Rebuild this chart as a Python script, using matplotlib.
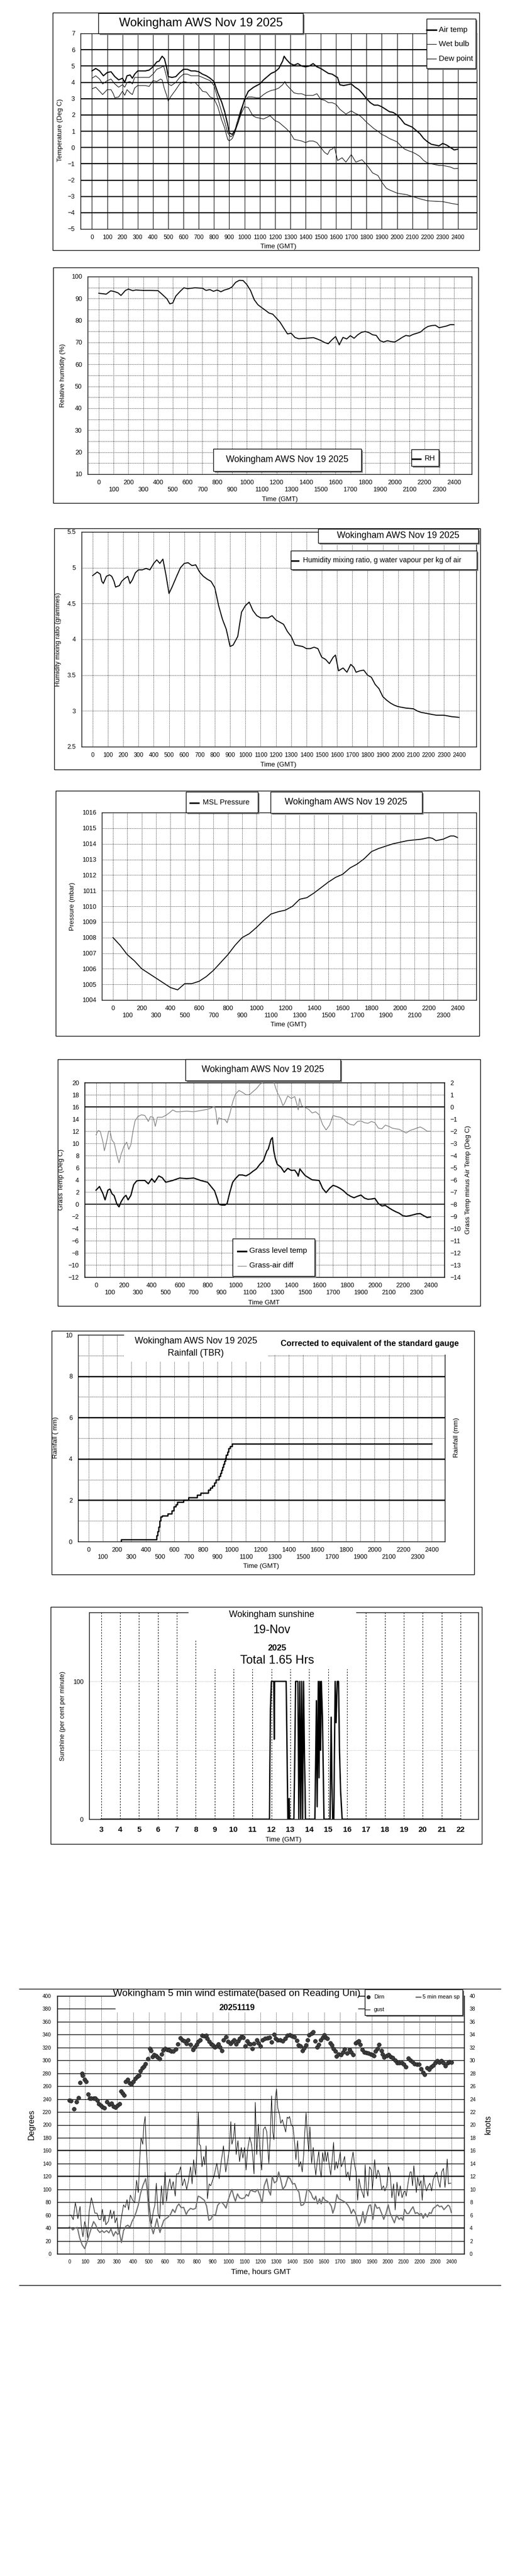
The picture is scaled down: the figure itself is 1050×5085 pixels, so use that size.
import matplotlib
matplotlib.use("Agg")
import matplotlib.pyplot as plt
from matplotlib.transforms import Affine2D
from matplotlib.patches import Rectangle
from matplotlib.lines import Line2D

W, H = 1050, 5085

# ---------------------------------------------------------------- data
HOURS = list(range(0, 2401, 100))

AIR_TEMP = [(0,4.7),(25,4.85),(50,4.7),(75,4.4),(100,4.6),(125,4.65),(150,4.35),(175,4.15),(200,4.25),(215,4.0),
    (230,4.4),(250,4.45),(265,4.25),(280,4.5),(300,4.7),(325,4.7),(350,4.7),(375,4.75),(400,4.95),(425,5.25),
    (440,5.3),(460,5.6),(475,5.45),(490,4.9),(500,4.35),(525,4.3),(550,4.35),(575,4.6),(600,4.8),(625,4.8),
    (650,4.7),(675,4.7),(700,4.65),(725,4.5),(750,4.4),(775,4.25),(800,4.05),(825,3.35),(850,2.8),(870,2.2),
    (890,1.4),(900,0.9),(920,0.8),(940,1.1),(960,1.6),(980,2.3),(1000,2.95),(1025,3.45),(1060,3.7),(1100,3.9),
    (1125,4.15),(1150,4.35),(1175,4.55),(1200,4.65),(1225,4.85),(1250,5.3),(1260,5.6),(1275,5.4),(1300,5.15),
    (1325,5.05),(1350,5.15),(1375,5.0),(1400,4.95),(1425,5.0),(1450,5.15),(1475,4.95),(1500,4.85),(1525,4.7),
    (1550,4.55),(1575,4.5),(1600,4.35),(1610,4.3),(1625,3.85),(1650,3.8),(1675,3.85),(1700,3.9),(1725,3.7),
    (1750,3.55),(1775,3.3),(1800,3.0),(1825,2.75),(1850,2.6),(1875,2.6),(1900,2.5),(1925,2.35),(1950,2.2),
    (1975,2.15),(2000,2.0),(2025,1.75),(2050,1.45),(2075,1.35),(2100,1.25),(2125,1.05),(2150,0.85),(2175,0.55),
    (2200,0.35),(2225,0.2),(2250,0.15),(2275,0.1),(2300,0.25),(2325,0.15),(2350,0.0),(2375,-0.15),(2400,-0.1)]

WET_BULB = [(0,4.25),(25,4.4),(50,4.2),(70,3.9),(100,4.1),(125,4.2),(150,3.9),(175,3.7),(200,3.85),(215,3.7),
    (230,4.0),(250,4.05),(265,3.9),(280,4.3),(300,4.3),(350,4.3),(375,4.3),(400,4.5),(425,4.8),(450,4.9),
    (470,5.0),(485,4.5),(500,3.9),(520,3.8),(550,4.0),(575,4.3),(600,4.5),(625,4.5),(650,4.4),(700,4.4),
    (725,4.3),(750,4.2),(775,4.1),(800,3.8),(825,3.0),(850,2.2),(870,1.6),(890,0.9),(910,0.65),(930,0.8),
    (950,1.5),(975,2.3),(1000,2.9),(1025,3.1),(1050,3.1),(1075,3.05),(1100,3.05),(1125,3.25),(1150,3.4),
    (1175,3.5),(1200,3.55),(1225,3.65),(1250,3.85),(1265,4.05),(1275,3.85),(1300,3.6),(1325,3.35),(1350,3.3),
    (1375,3.3),(1400,3.2),(1425,3.2),(1450,3.2),(1475,3.3),(1500,2.95),(1525,2.9),(1550,2.75),(1575,2.75),
    (1600,2.65),(1625,2.35),(1665,2.05),(1700,2.25),(1725,2.1),(1750,2.0),(1775,1.8),(1800,1.55),(1825,1.35),
    (1850,1.15),(1875,1.0),(1900,0.8),(1925,0.7),(1950,0.55),(1975,0.45),(2000,0.35),(2025,0.1),(2050,-0.1),
    (2075,-0.2),(2100,-0.28),(2125,-0.4),(2150,-0.55),(2175,-0.8),(2200,-0.95),(2225,-1.0),(2250,-1.05),
    (2275,-1.1),(2300,-1.1),(2325,-1.15),(2350,-1.2),(2375,-1.3),(2400,-1.28)]

DEW_POINT = [(0,3.6),(25,3.7),(50,3.45),(70,3.25),(100,3.55),(125,3.55),(140,3.3),(150,3.05),(175,3.1),(200,3.45),
    (215,3.2),(230,3.55),(250,3.35),(265,3.25),(280,3.65),(300,3.8),(325,3.8),(350,3.8),(375,3.75),(400,4.1),
    (425,4.05),(450,4.2),(460,4.15),(475,3.6),(490,3.2),(500,2.85),(515,3.1),(550,3.55),(575,3.9),(600,4.05),
    (625,4.0),(650,3.95),(675,4.0),(700,3.75),(725,3.45),(750,3.4),(775,3.1),(800,3.0),(825,2.5),(850,1.7),
    (870,1.2),(890,0.5),(900,0.4),(920,0.55),(940,1.0),(960,1.6),(980,2.1),(1000,2.5),(1025,2.45),(1055,1.95),
    (1075,1.85),(1100,1.8),(1125,1.75),(1168,1.95),(1200,1.65),(1225,1.55),(1250,1.35),(1275,1.15),(1300,0.9),
    (1325,0.5),(1350,0.45),(1375,0.4),(1400,0.3),(1425,0.4),(1450,0.4),(1475,0.3),(1500,0.0),(1525,-0.3),
    (1545,-0.43),(1560,-0.15),(1575,-0.1),(1590,0.05),(1610,-0.8),(1640,-0.63),(1665,-0.9),(1700,-0.43),
    (1730,-0.9),(1770,-0.75),(1800,-1.05),(1840,-1.56),(1875,-1.72),(1900,-2.13),(1930,-2.5),(1950,-2.6),
    (2000,-2.8),(2065,-2.9),(2100,-3.0),(2150,-3.15),(2200,-3.27),(2250,-3.3),(2300,-3.32),(2350,-3.42),(2400,-3.5)]

REL_HUM = [(0,92.4),(50,92.0),(80,93.5),(100,93.3),(130,92.6),(150,91.4),(180,93.7),(200,94.3),(230,93.6),
    (250,93.9),(300,93.7),(350,93.7),(400,93.6),(430,91.8),(460,89.9),(480,87.6),(500,88.0),(520,91.1),
    (550,93.3),(575,94.9),(600,94.5),(650,94.9),(700,94.7),(725,93.7),(750,94.1),(775,93.3),(800,93.9),
    (825,93.1),(850,93.9),(880,94.5),(900,95.3),(925,97.4),(950,98.3),(975,98.2),(1000,96.4),(1025,93.7),
    (1050,89.5),(1075,87.2),(1100,85.9),(1125,84.7),(1150,83.4),(1175,82.9),(1200,81.1),(1225,79.2),
    (1250,76.5),(1275,73.9),(1300,74.2),(1325,72.3),(1350,71.7),(1400,71.9),(1450,72.2),(1475,71.6),
    (1500,70.9),(1525,70.0),(1550,69.4),(1575,71.2),(1600,72.7),(1625,68.9),(1650,72.3),(1675,71.6),
    (1700,73.1),(1725,71.9),(1750,73.5),(1775,74.6),(1800,75.0),(1825,74.5),(1850,73.5),(1875,73.2),
    (1900,70.8),(1925,70.2),(1950,70.8),(1975,70.4),(2000,70.2),(2025,71.2),(2050,72.3),(2075,73.2),
    (2100,72.9),(2125,73.7),(2150,74.2),(2175,74.8),(2200,76.3),(2225,77.3),(2250,77.7),(2275,77.8),
    (2300,76.7),(2325,77.1),(2350,77.5),(2375,78.1),(2400,78.1)]

MIX_RATIO = [(0,4.89),(30,4.94),(50,4.91),(60,4.81),(70,4.78),(90,4.88),(110,4.90),(125,4.88),(140,4.81),
    (150,4.73),(175,4.75),(190,4.81),(210,4.85),(230,4.88),(245,4.78),(260,4.83),(280,4.93),(300,4.97),
    (325,4.97),(350,4.99),(375,4.97),(400,5.06),(420,5.11),(440,5.06),(460,5.12),(480,4.90),(500,4.64),
    (520,4.73),(550,4.88),(575,5.00),(600,5.06),(625,5.07),(650,5.03),(675,5.04),(700,4.94),(725,4.88),
    (750,4.84),(775,4.81),(800,4.72),(825,4.47),(850,4.28),(875,4.14),(900,3.90),(920,3.92),(950,4.04),
    (975,4.38),(1000,4.47),(1025,4.52),(1050,4.40),(1075,4.33),(1100,4.30),(1125,4.30),(1150,4.30),
    (1175,4.33),(1200,4.27),(1225,4.24),(1250,4.21),(1275,4.11),(1300,4.04),(1325,3.92),(1350,3.91),
    (1375,3.90),(1400,3.87),(1425,3.87),(1450,3.89),(1475,3.87),(1500,3.75),(1525,3.72),(1550,3.66),
    (1575,3.75),(1590,3.78),(1610,3.56),(1640,3.60),(1665,3.54),(1690,3.65),(1710,3.61),(1725,3.54),
    (1750,3.56),(1775,3.57),(1800,3.50),(1825,3.47),(1850,3.37),(1875,3.31),(1900,3.20),(1925,3.15),
    (1950,3.11),(1975,3.08),(2000,3.06),(2050,3.04),(2100,3.03),(2125,3.00),(2150,2.98),(2200,2.96),
    (2250,2.94),(2300,2.94),(2350,2.92),(2400,2.91)]

MSL_PRESSURE = [(0,1008.0),(50,1007.5),(100,1006.9),(150,1006.5),(200,1006.0),(250,1005.7),(300,1005.4),
    (350,1005.1),(400,1004.8),(450,1004.65),(500,1005.05),(550,1005.05),(600,1005.2),(650,1005.5),
    (700,1005.9),(750,1006.4),(800,1006.9),(850,1007.5),(900,1008.0),(950,1008.25),(1000,1008.65),
    (1050,1009.1),(1100,1009.5),(1150,1009.65),(1200,1009.75),(1250,1010.0),(1300,1010.45),(1350,1010.55),
    (1400,1010.85),(1450,1011.2),(1500,1011.55),(1550,1011.85),(1600,1012.05),(1650,1012.45),(1700,1012.7),
    (1750,1013.05),(1800,1013.5),(1850,1013.7),(1900,1013.85),(1950,1014.0),(2000,1014.1),(2050,1014.2),
    (2100,1014.25),(2150,1014.3),(2200,1014.4),(2225,1014.35),(2250,1014.2),(2300,1014.3),(2350,1014.5),
    (2375,1014.5),(2400,1014.4)]

GRASS_TEMP = [(0,2.3),(25,2.9),(50,1.7),(65,0.7),(85,2.3),(100,2.5),(115,1.7),(130,1.4),(150,0.0),(165,-0.45),
    (180,0.4),(200,1.15),(215,1.45),(230,0.7),(250,1.45),(270,3.2),(290,3.8),(310,3.9),(350,3.9),(375,3.35),
    (400,4.2),(420,3.6),(450,4.65),(475,4.35),(500,3.6),(550,3.9),(600,4.3),(650,4.2),(700,4.3),(750,3.9),
    (800,3.6),(825,2.9),(850,2.2),(870,0.85),(880,0.0),(900,-0.15),(925,-0.15),(940,0.1),(960,2.0),(980,3.6),
    (1000,4.2),(1025,4.8),(1050,4.8),(1075,4.65),(1100,4.95),(1125,5.4),(1150,5.8),(1175,6.55),(1200,7.15),
    (1225,8.75),(1235,9.05),(1255,10.65),(1265,10.95),(1275,8.75),(1285,7.6),(1300,6.55),(1325,6.1),
    (1350,5.25),(1375,5.9),(1400,5.55),(1425,5.6),(1445,4.95),(1450,4.6),(1462,5.8),(1475,5.4),(1500,4.7),
    (1525,4.35),(1550,4.0),(1600,3.9),(1625,2.6),(1650,1.9),(1675,2.6),(1700,3.1),(1725,2.9),(1750,2.6),
    (1775,2.2),(1800,1.65),(1825,1.3),(1850,1.05),(1875,1.3),(1900,1.5),(1925,1.0),(1950,0.8),(1975,0.85),
    (2000,0.95),(2025,0.1),(2050,-0.3),(2075,-0.2),(2100,-0.6),(2125,-0.95),(2150,-1.25),(2175,-1.5),
    (2200,-1.9),(2225,-2.0),(2250,-1.9),(2275,-1.75),(2300,-1.6),(2325,-1.55),(2350,-1.9),(2375,-2.2),(2400,-2.1)]

GRASS_AIR_DIFF = [(0,-2.3),(15,-1.95),(30,-2.0),(50,-2.9),(60,-3.6),(75,-2.9),(90,-2.0),(100,-2.0),(115,-2.75),
    (130,-2.95),(150,-4.0),(165,-4.6),(180,-3.9),(200,-3.25),(220,-2.9),(235,-3.5),(250,-3.1),(265,-2.0),
    (280,-1.15),(300,-0.8),(325,-0.65),(350,-0.7),(375,-1.2),(390,-0.8),(410,-0.85),(425,-1.6),(440,-0.85),
    (475,-0.85),(500,-0.7),(525,-0.5),(550,-0.25),(575,-0.4),(600,-0.4),(650,-0.35),(700,-0.4),(725,-0.35),
    (750,-0.3),(800,-0.2),(825,-0.1),(850,0.05),(860,-0.4),(870,-1.45),(880,-0.9),(900,-1.0),(925,-1.05),
    (940,-1.3),(960,-0.55),(980,0.4),(1000,1.05),(1025,1.35),(1050,1.2),(1075,1.0),(1100,1.0),(1125,1.25),
    (1150,1.5),(1175,1.85),(1200,2.05),(1225,2.15),(1250,2.2),(1275,2.05),(1290,1.5),(1300,1.2),(1325,0.6),
    (1340,0.1),(1350,0.25),(1375,0.9),(1400,0.7),(1425,0.85),(1440,0.25),(1450,-0.25),(1460,0.7),(1475,0.1),
    (1500,-0.05),(1525,-0.2),(1550,-0.5),(1575,-0.4),(1600,-0.65),(1625,-1.45),(1650,-1.9),(1675,-1.5),
    (1700,-0.7),(1725,-0.8),(1750,-0.85),(1775,-1.0),(1800,-1.3),(1825,-1.45),(1850,-1.5),(1875,-1.2),
    (1900,-1.15),(1925,-1.3),(1950,-1.35),(1975,-1.2),(2000,-1.3),(2025,-1.75),(2050,-1.8),(2075,-1.5),
    (2100,-1.6),(2125,-1.75),(2150,-1.8),(2175,-1.85),(2200,-2.0),(2225,-2.15),(2250,-1.95),(2275,-1.85),
    (2300,-1.75),(2325,-1.65),(2350,-1.8),(2375,-2.0),(2400,-2.0)]

RAINFALL = [(0,-0.03),(228,0.1),(477,0.3),(483,0.5),(490,0.7),(497,1.0),(505,1.2),(515,1.25),(555,1.35),
    (582,1.5),(595,1.7),(610,1.8),(622,1.9),(664,2.02),(700,2.13),(757,2.25),(785,2.36),(837,2.5),(850,2.6),
    (864,2.7),(878,2.85),(890,3.0),(911,3.15),(920,3.3),(928,3.45),(936,3.6),(942,3.75),(950,3.9),(956,4.05),
    (962,4.2),(970,4.35),(978,4.5),(989,4.6),(1003,4.72),(2400,4.72)]

SUN_HOURS = list(range(3, 23))
SUNSHINE = [(3,0),(11.9,0),(11.92,40),(11.95,80),(12.0,100),(12.13,100),(12.15,58),(12.17,100),(12.78,100),
    (12.8,81),(12.87,0),(12.92,0),(12.94,15),(12.96,0),(13.19,0),(13.24,50),(13.28,100),(13.4,100),(13.45,0),
    (13.5,100),(13.55,0),(13.6,100),(13.65,0),(13.7,100),(13.75,45),(13.78,22),(13.8,0),(14.3,0),(14.38,86),
    (14.42,9),(14.48,100),(14.52,30),(14.56,100),(14.6,50),(14.64,100),(14.7,74),(14.78,0),(15.1,0),
    (15.16,74),(15.2,26),(15.24,0),(15.3,0),(15.37,100),(15.42,70),(15.48,100),(15.55,100),(15.6,49),
    (15.66,20),(15.74,0),(22,0)]

WIND_DIR = [(0,238),(11,237),(30,224.5),(43,236),(56,242),(67,265.6),(78,280),(82,277),(96,270),(106,267),
    (117,247.6),(128,241),(138,241),(152,241),(163,241),(176,238),(186,233),(197,230.6),(207,228),(220,226),
    (237,235.5),(250,231.5),(263,233.3),(277,229),(290,227),(303,230),(316,233),(324,252),(335,249),(343,246),
    (354,267),(367,270),(378,265),(388,263),(401,267),(415,272),(426,275),(436,277),(447,283.6),(457,288.5),
    (468,291),(479,294.4),(493,302.4),(505,318.5),(511,315),(521,306),(532,308.6),(543,307),(553,305),
    (566,302.4),(578,310),(588,316),(601,318.5),(614,316.7),(628,316),(641,314),(654,314),(667,317.5),
    (681,325.5),(697,334.7),(710,332),(723,330),(734,326),(745,331.5),(761,324.7),(777,316.7),(787,320.7),
    (798,324.7),(809,329),(821,332),(833,339),(846,338),(858,339),(867,334),(878,329),(890,325),(901,323.4),
    (915,320.7),(926,322),(936,325),(947,321),(957,315),(968,331.5),(984,336),(997,329),(1011,326),(1024,329),
    (1035,332),(1048,325.5),(1059,330),(1071,334),(1082,337),(1093,335.5),(1106,322),(1117,330),(1128,326),
    (1138,325),(1149,318.5),(1160,326),(1177,331.5),(1189,326.6),(1200,322),(1214,331.5),(1230,334),
    (1246,334.7),(1259,335.5),(1270,328.8),(1285,340),(1296,334),(1309,332),(1325,331.5),(1341,330),
    (1355,334),(1368,339),(1384,339.5),(1398,338),(1412,336),(1429,331),(1440,323.4),(1453,322),(1463,315.3),
    (1474,319.4),(1487,323.4),(1495,331.5),(1506,339.5),(1522,341.7),(1532,344.4),(1543,330),(1557,320.7),
    (1567,324.7),(1580,331.5),(1593,335.5),(1601,339.5),(1612,335.5),(1622,334),(1638,326.6),(1649,323.4),
    (1660,318),(1670,314),(1678,306.5),(1692,310),(1705,308.6),(1718,313),(1728,317.5),(1745,311),
    (1759,316.7),(1771,313),(1782,308.6),(1798,326.6),(1808,328.8),(1819,330),(1826,324.7),(1840,316.7),
    (1854,312.6),(1867,312),(1879,311.3),(1893,310),(1903,308.6),(1914,307.3),(1922,314),(1935,318),
    (1946,324.7),(1960,314.8),(1968,310),(1978,304.6),(1992,307.3),(2005,308.6),(2018,306),(2031,304),
    (2047,300.5),(2060,296),(2074,296),(2088,296.5),(2100,293.8),(2115,289.8),(2130,303),(2143,300.5),
    (2155,298),(2169,295),(2183,293.8),(2196,293.8),(2209,287),(2222,281),(2233,278),(2249,288.5),
    (2260,285.8),(2272,289.8),(2286,292.5),(2300,296),(2311,299.2),(2324,297),(2336,299.7),(2349,296),
    (2363,291.7),(2377,296),(2387,298),(2400,297)]

WIND_MEAN = [(0,4.17),(11,4.0),(21,3.7),(35,4.0),(50,4.1),(64,2.5),(80,1.4),(96,0.8),(110,1.8),(122,2.75),
    (138,4.0),(152,5.0),(165,4.5),(178,3.7),(191,3.3),(205,3.6),(218,3.3),(234,3.6),(248,3.25),(261,3.85),
    (277,2.75),(290,3.45),(303,3.0),(314,3.3),(327,1.75),(340,3.6),(354,4.25),(367,4.45),(380,4.1),(394,5.05),
    (406,5.6),(420,6.5),(433,7.6),(447,9.35),(461,10.55),(479,11.65),(489,9.9),(500,6.0),(514,4.25),(527,3.1),
    (537,4.1),(550,5.45),(561,4.1),(569,3.3),(580,4.25),(593,5.2),(606,5.45),(620,5.7),(635,6.1),(649,6.9),
    (663,6.4),(676,7.35),(688,7.75),(702,7.15),(718,7.2),(734,6.1),(745,6.65),(761,7.05),(777,6.9),(793,7.05),
    (809,8.95),(822,8.8),(835,8.55),(848,8.3),(862,7.4),(876,5.2),(888,5.35),(901,6.0),(918,6.05),(931,7.5),
    (944,7.9),(957,8.0),(971,7.6),(984,7.1),(997,8.3),(1011,9.35),(1021,10.0),(1032,8.95),(1043,8.15),
    (1056,9.3),(1069,8.7),(1085,8.55),(1101,8.7),(1112,9.2),(1124,8.95),(1138,9.9),(1150,9.75),(1168,9.6),
    (1182,10.0),(1198,8.95),(1211,7.9),(1224,10.55),(1240,11.65),(1253,9.75),(1264,9.1),(1274,12.05),
    (1288,11.0),(1302,11.25),(1315,12.7),(1328,11.5),(1341,10.0),(1357,10.55),(1373,11.9),(1387,11.65),
    (1402,10.85),(1416,10.9),(1429,10.0),(1442,9.6),(1455,7.5),(1469,7.6),(1479,8.0),(1493,10.0),(1506,9.8),
    (1519,9.35),(1529,8.7),(1540,8.4),(1548,8.95),(1559,7.75),(1572,8.55),(1582,7.75),(1593,8.8),(1607,8.3),
    (1621,8.15),(1633,7.9),(1646,7.35),(1655,6.3),(1667,7.2),(1681,9.2),(1692,8.55),(1705,8.4),(1718,8.2),
    (1734,8.0),(1748,7.6),(1761,7.05),(1771,6.25),(1784,6.9),(1798,6.25),(1808,5.2),(1819,4.25),(1833,5.05),
    (1844,6.55),(1856,4.8),(1869,6.25),(1883,7.5),(1893,7.6),(1907,5.35),(1920,7.75),(1933,7.05),(1947,7.2),
    (1962,6.25),(1975,5.35),(1989,6.25),(2003,7.6),(2016,6.25),(2028,5.6),(2042,4.8),(2056,6.0),(2071,5.35),
    (2085,5.6),(2095,5.2),(2106,6.9),(2120,6.25),(2132,6.25),(2148,6.9),(2159,7.3),(2173,6.25),(2185,6.4),
    (2198,6.1),(2212,6.25),(2223,5.5),(2236,6.25),(2249,5.7),(2262,6.4),(2273,6.25),(2286,7.05),(2300,7.3),
    (2313,7.6),(2325,7.3),(2339,7.4),(2353,6.85),(2366,7.2),(2379,7.55),(2389,7.35),(2400,6.4)]

WIND_GUST = [(0,6.0),(11,6.0),(24,5.3),(37,7.9),(43,7.2),(53,5.45),(67,7.35),(74,4.4),(85,2.65),(96,5.0),
    (106,4.0),(114,2.5),(124,6.55),(138,8.7),(149,7.6),(160,6.3),(173,6.3),(186,5.3),(197,5.3),(207,6.9),
    (216,5.0),(223,6.0),(229,4.5),(245,5.05),(258,6.8),(266,5.45),(280,6.65),(287,4.8),(298,5.6),(305,4.0),
    (314,3.05),(324,5.2),(340,7.6),(351,7.2),(362,8.4),(372,6.8),(383,9.1),(396,8.4),(410,7.9),(422,11.4),
    (433,9.5),(441,14.3),(450,18.0),(461,17.0),(468,20.0),(476,21.3),(482,17.0),(489,13.8),(498,8.4),
    (505,6.8),(516,4.65),(527,6.55),(537,7.6),(546,10.95),(557,6.3),(567,5.45),(578,10.55),(588,7.6),
    (601,12.7),(610,8.15),(620,10.3),(631,11.65),(641,10.0),(652,11.2),(665,8.95),(673,12.4),(686,12.4),
    (699,13.5),(710,10.55),(723,11.65),(737,10.0),(748,11.35),(761,13.5),(771,10.85),(780,14.6),(793,12.2),
    (803,17.0),(810,22.0),(816,17.0),(824,16.75),(833,13.5),(844,15.1),(851,13.8),(859,16.75),(867,8.55),
    (878,10.85),(888,10.55),(899,11.35),(910,12.2),(926,14.05),(941,11.65),(954,14.3),(968,16.75),(982,12.7),
    (993,14.3),(1005,16.2),(1014,20.5),(1021,17.0),(1032,18.1),(1039,20.25),(1048,15.4),(1059,17.55),
    (1069,14.3),(1080,16.5),(1090,14.85),(1101,16.5),(1110,13.0),(1120,16.2),(1133,18.1),(1144,17.0),
    (1151,15.4),(1160,12.4),(1168,23.5),(1177,15.4),(1187,20.1),(1198,15.7),(1208,13.0),(1219,19.3),
    (1230,19.7),(1240,18.9),(1253,14.05),(1262,18.1),(1270,24.5),(1278,18.9),(1285,17.7),(1293,23.75),
    (1301,25.6),(1309,22.65),(1320,21.6),(1328,20.25),(1338,20.8),(1347,20.0),(1359,18.9),(1368,21.2),
    (1376,21.0),(1383,21.3),(1394,20.0),(1405,19.7),(1416,17.0),(1423,14.6),(1434,17.55),(1442,13.5),
    (1453,14.3),(1463,12.7),(1472,15.4),(1479,18.9),(1487,21.85),(1495,18.4),(1504,15.9),(1511,19.7),
    (1522,14.05),(1532,16.5),(1540,14.05),(1548,12.2),(1557,14.3),(1567,15.9),(1575,13.0),(1582,11.9),
    (1591,15.7),(1599,14.3),(1607,15.9),(1614,14.3),(1623,15.8),(1631,14.05),(1642,12.2),(1649,14.05),
    (1660,17.3),(1667,13.0),(1676,14.3),(1684,13.25),(1692,14.3),(1702,15.8),(1708,13.5),(1718,14.05),
    (1729,15.1),(1739,11.9),(1750,12.7),(1761,11.35),(1771,14.05),(1782,15.8),(1792,13.8),(1801,12.7),
    (1811,8.3),(1819,11.65),(1830,10.3),(1840,9.5),(1851,8.7),(1858,13.8),(1865,10.3),(1875,8.95),
    (1886,13.5),(1897,13.0),(1904,10.0),(1918,14.6),(1928,11.65),(1939,13.0),(1950,12.2),(1962,10.0),
    (1973,10.55),(1982,9.75),(1994,10.55),(2005,13.5),(2016,12.4),(2026,8.7),(2037,10.85),(2047,6.8),
    (2058,11.1),(2069,8.95),(2079,10.55),(2090,8.7),(2100,9.5),(2109,9.75),(2116,8.95),(2124,10.3),
    (2132,11.65),(2141,12.7),(2148,12.7),(2156,10.55),(2164,13.65),(2173,11.35),(2180,9.5),(2188,11.9),
    (2198,10.55),(2209,11.35),(2217,8.3),(2226,12.2),(2233,10.85),(2244,9.75),(2255,10.55),(2265,10.95),
    (2276,9.75),(2286,11.5),(2297,12.2),(2308,12.7),(2318,11.35),(2329,10.3),(2339,12.7),(2350,13.25),
    (2360,10.3),(2366,11.9),(2374,14.7),(2382,10.85),(2389,10.95),(2398,10.95)]

TITLE = "Wokingham AWS Nov 19 2025"

# ---------------------------------------------------------------- helpers
plt.rcParams['font.family'] = ['Liberation Sans', 'DejaVu Sans']
fig = plt.figure(figsize=(W / 100, H / 100), dpi=100)
fig.patch.set_facecolor('white')
PIX = Affine2D().scale(1.0 / W, -1.0 / H).translate(0, 1) + fig.transFigure

DOT = dict(color='black', lw=0.7, ls=(0, (1, 1.6)))


def unzip(pairs):
    return [p[0] for p in pairs], [p[1] for p in pairs]


def add_ax(x0, y0, x1, y1):
    ax = fig.add_axes([x0 / W, 1 - y1 / H, (x1 - x0) / W, (y1 - y0) / H])
    ax.set_facecolor('white')
    for s in ax.spines.values():
        s.set_linewidth(1.0)
        s.set_color('black')
    ax.tick_params(length=0, pad=8, labelsize=9, colors='black')
    return ax


def frame(x0, y0, x1, y1):
    fig.add_artist(Rectangle((x0, y0), x1 - x0, y1 - y0, transform=PIX, fill=False,
                             edgecolor='black', lw=1.0, zorder=1))


def box(x0, y0, x1, y1, shadow=True):
    if shadow:
        fig.add_artist(Rectangle((x0 + 3, y0 + 3), x1 - x0, y1 - y0, transform=PIX,
                                 facecolor='#7f7f7f', edgecolor='none', zorder=20))
    fig.add_artist(Rectangle((x0, y0), x1 - x0, y1 - y0, transform=PIX,
                             facecolor='white', edgecolor='black', lw=1.0, zorder=21))


def cover(x0, y0, x1, y1):
    fig.add_artist(Rectangle((x0, y0), x1 - x0, y1 - y0, transform=PIX,
                             facecolor='white', edgecolor='none', zorder=20))


def ftext(x, y, s, size, ha='center', weight='normal', rotation=0, color='black'):
    fig.text(x, y, s, transform=PIX, ha=ha, va='center', fontsize=size, fontweight=weight,
             rotation=rotation, color=color, zorder=22)


def fline(x0, x1, y, lw, color='black'):
    fig.add_artist(Line2D([x0, x1], [y, y], transform=PIX, lw=lw, color=color, zorder=22))


def two_row(ax, size=9):
    ax.set_xticks(HOURS)
    ax.set_xticklabels([str(h) if (h // 100) % 2 == 0 else '\n' + str(h) for h in HOURS], fontsize=size)


def gfmt(v):
    return ('%g' % v)

# ================================================================ panel 1: temperatures
frame(104, 25, 946, 494)
ax = add_ax(159, 66, 941, 452)
ax.set_xlim(-74.7, 2522.9)
ax.set_ylim(-5, 7)
for h in HOURS:
    ax.axvline(h, color='black', lw=0.75, zorder=1)
for v in range(-4, 7):
    ax.axhline(v, color='black', lw=1.6, zorder=1)
t, v = unzip(AIR_TEMP); ax.plot(t, v, color='black', lw=1.6, zorder=4)
t, v = unzip(WET_BULB); ax.plot(t, v, color='black', lw=0.8, zorder=4)
t, v = unzip(DEW_POINT); ax.plot(t, v, color='black', lw=0.8, zorder=4)
ax.set_xticks(HOURS); ax.set_xticklabels([str(h) for h in HOURS], fontsize=8.5)
ax.set_yticks(range(-5, 8))
ax.tick_params(axis='x', pad=8)
ftext(119, 257, 'Temperature (Deg C)', 9.5, rotation=90)
ftext(549, 487, 'Time (GMT)', 9.5)
box(194, 26, 598, 66)
ftext(397, 46, TITLE, 17)
box(842, 37, 939, 135)
fline(842, 861, 59, 2.2); ftext(866, 59, 'Air temp', 11, ha='left')
fline(842, 861, 87, 0.8); ftext(866, 87, 'Wet bulb', 11, ha='left')
fline(842, 861, 116, 0.8); ftext(866, 116, 'Dew point', 11, ha='left')

# ================================================================ panel 2: relative humidity
frame(105, 528, 944, 993)
ax = add_ax(173, 546, 931, 936)
ax.set_xlim(-75.3, 2519.8)
ax.set_ylim(10, 100)
for h in HOURS:
    ax.axvline(h, zorder=1, **DOT)
for y in range(15, 100, 5):
    ax.axhline(y, zorder=1, **DOT)
t, v = unzip(REL_HUM); ax.plot(t, v, color='black', lw=1.4, zorder=4)
two_row(ax)
ax.set_yticks(range(10, 101, 10))
ftext(124, 741, 'Relative humidity (%)', 9.5, rotation=90)
ftext(552, 986, 'Time (GMT)', 9.5)
box(421, 886, 713, 930)
ftext(567, 908, TITLE, 12.7)
box(812, 887, 866, 920)
fline(814, 830, 906, 2.2); ftext(838, 905, 'RH', 10.5, ha='left')

# ================================================================ panel 3: mixing ratio
frame(107, 1043, 948, 1519)
ax = add_ax(161, 1050, 940, 1474)
ax.set_xlim(-72.5, 2512)
ax.set_ylim(2.5, 5.5)
for h in HOURS:
    ax.axvline(h, zorder=1, **DOT)
for y in [3.0, 3.5, 4.0, 4.5, 5.0]:
    ax.axhline(y, zorder=1, **DOT)
t, v = unzip(MIX_RATIO); ax.plot(t, v, color='black', lw=1.4, zorder=4)
ax.set_xticks(HOURS); ax.set_xticklabels([str(h) for h in HOURS], fontsize=8.5)
yt = [2.5, 3.0, 3.5, 4.0, 4.5, 5.0, 5.5]
ax.set_yticks(yt); ax.set_yticklabels([gfmt(y) for y in yt])
ftext(115, 1262, 'Humidity mixing ratio (grammes)', 9.3, rotation=90)
ftext(549, 1510, 'Time (GMT)', 9.5)
box(628, 1044, 944, 1072)
ftext(786, 1058, TITLE, 12.7)
box(574, 1087, 941, 1124)
fline(575, 589, 1107, 2.2)
ftext(598, 1106, 'Humidity mixing ratio, g water vapour per kg of air', 10.2, ha='left')

# ================================================================ panel 4: pressure
frame(110, 1561, 946, 2045)
ax = add_ax(201, 1604, 940, 1974)
ax.set_xlim(-77.6, 2530)
ax.set_ylim(1004, 1016)
for h in HOURS:
    ax.axvline(h, zorder=1, **DOT)
for y in range(1005, 1016):
    ax.axhline(y, zorder=1, **DOT)
t, v = unzip(MSL_PRESSURE); ax.plot(t, v, color='black', lw=1.3, zorder=4)
two_row(ax)
ax.set_yticks(range(1004, 1017))
ftext(143, 1789, 'Pressure (mbar)', 9.5, rotation=90)
ftext(569, 2023, 'Time (GMT)', 9.5)
box(367, 1563, 509, 1604)
fline(375, 392, 1585, 2.2); ftext(400, 1584, 'MSL Pressure', 10.5, ha='left')
box(534, 1563, 833, 1605)
ftext(683, 1583, TITLE, 12.7)

# ================================================================ panel 5: grass temperature
frame(114, 2091, 948, 2578)
ax = add_ax(167, 2137, 877, 2521)
ax.set_xlim(-81.8, 2498)
ax.set_ylim(-12, 20)
for h in HOURS:
    ax.axvline(h, zorder=1, **DOT)
for y in range(-10, 20, 2):
    if y in (0, 16):
        ax.axhline(y, color='black', lw=1.4, zorder=1)
    else:
        ax.axhline(y, zorder=1, **DOT)
t, v = unzip(GRASS_TEMP); ax.plot(t, v, color='black', lw=1.7, zorder=4)
two_row(ax)
ax.set_yticks(range(-12, 21, 2))
ax2 = ax.twinx()
ax2.set_xlim(-81.8, 2498)
ax2.set_ylim(-14, 2)
for s in ax2.spines.values():
    s.set_linewidth(1.0); s.set_color('black')
ax2.tick_params(length=0, pad=8, labelsize=9)
ax2.set_yticks(range(-14, 3))
t, v = unzip(GRASS_AIR_DIFF); ax2.plot(t, v, color='#808080', lw=1.0, zorder=4)
ftext(121, 2329, 'Grass Temp (Deg C)', 9.5, rotation=90)
ftext(924, 2329, 'Grass Temp minus Air Temp (Deg C)', 9.5, rotation=90)
ftext(521, 2572, 'Time GMT', 9.5)
box(366, 2091, 672, 2133)
ftext(519, 2111, TITLE, 12.7)
box(459, 2445, 621, 2519)
fline(469, 486, 2470, 2.4); ftext(492, 2469, 'Grass level temp', 11, ha='left')
fline(469, 486, 2499, 0.9, color='#808080'); ftext(492, 2498, 'Grass-air diff', 11, ha='left')

# ================================================================ panel 6: rainfall
frame(102, 2627, 936, 3108)
ax = add_ax(154, 2635, 878, 3043)
ax.set_xlim(-73.6, 2490.7)
ax.set_ylim(0, 10)
for h in HOURS:
    ax.axvline(h, zorder=1, **DOT)
for y in range(1, 10):
    if y % 2 == 0:
        ax.axhline(y, color='black', lw=1.8, zorder=1)
    else:
        ax.axhline(y, zorder=1, **DOT)
t, v = unzip(RAINFALL); ax.step(t, v, where='post', color='black', lw=1.8, zorder=4)
two_row(ax)
ax.set_yticks(range(0, 11, 2))
cover(245, 2630, 529, 2688)
cover(529, 2630, 882, 2674)
ftext(387, 2647, TITLE, 12.7)
ftext(386, 2671, 'Rainfall (TBR)', 12.7)
ftext(730, 2652, 'Corrected to equivalent of the standard gauge', 11.5, weight='bold')
ftext(110, 2838, 'Rainfall ( mm)', 9.5, rotation=90)
ftext(901, 2838, 'Rainfall (mm)', 9.5, rotation=90)
ftext(515, 3092, 'Time (GMT)', 9.5)

# ================================================================ panel 7: sunshine
frame(100, 3172, 951, 3640)
ax = add_ax(176, 3183, 944, 3591)
ax.set_xlim(2.368, 22.937)
ax.set_ylim(0, 150)
for hh in SUN_HOURS:
    ax.axvline(hh, color='black', lw=0.8, ls=(0, (2.5, 2.5)), zorder=1)
for y in (50, 100):
    ax.axhline(y, color='#b0b0b0', lw=0.8, ls=(0, (1, 1.5)), zorder=1)
t, v = unzip(SUNSHINE); ax.plot(t, v, color='black', lw=1.9, zorder=4)
ax.set_xticks(SUN_HOURS)
ax.set_xticklabels([str(hh) for hh in SUN_HOURS], fontsize=11, fontweight='bold')
ax.tick_params(axis='x', pad=10)
ax.set_yticks([0, 100])
cover(372, 3174, 703, 3238)
cover(388, 3238, 690, 3295)
ftext(536, 3187, 'Wokingham sunshine', 12.7)
ftext(536, 3217, '19-Nov', 16.5)
ftext(547, 3253, '2025', 12, weight='bold')
ftext(547, 3278, 'Total 1.65 Hrs', 17)
ftext(124, 3387, 'Sunshine (per cent per minute)', 9.3, rotation=90)
ftext(559, 3632, 'Time (GMT)', 9.5)

# ================================================================ panel 8: wind
fig.add_artist(Line2D([38, 988], [3926, 3926], transform=PIX, lw=1.0, color='black', zorder=1))
fig.add_artist(Line2D([38, 988], [4511, 4511], transform=PIX, lw=1.0, color='black', zorder=1))
ax = add_ax(112.5, 3940, 916, 4449)
ax.set_xlim(-78, 2480)
ax.set_ylim(0, 400)
for h in HOURS:
    ax.axvline(h, zorder=1, **DOT)
for y in range(20, 400, 20):
    ax.axhline(y, color='black', lw=(1.7 if y in (40, 120, 160) else 1.0), zorder=1)
t, v = unzip(WIND_DIR)
ax.plot(t, v, ls='none', marker='o', ms=5.6, mfc='#3c3c3c', mec='#1e1e1e', mew=0.6, zorder=5)
ax.set_xticks(HOURS); ax.set_xticklabels([str(h) for h in HOURS], fontsize=7)
ax.set_yticks(range(0, 401, 20))
ax.tick_params(axis='y', labelsize=7.5)
ax2 = ax.twinx()
ax2.set_xlim(-78, 2480)
ax2.set_ylim(0, 40)
for s in ax2.spines.values():
    s.set_linewidth(1.0); s.set_color('black')
ax2.tick_params(length=0, pad=8, labelsize=7.5)
ax2.set_yticks(range(0, 41, 2))
t, v = unzip(WIND_GUST); ax2.plot(t, v, color='#101010', lw=0.8, zorder=3)
t, v = unzip(WIND_MEAN); ax2.plot(t, v, color='#6e6e6e', lw=1.6, zorder=4)
cover(228, 3938, 707, 3972)
ftext(467, 3936, 'Wokingham 5 min wind estimate(based on Reading Uni)', 14)
ftext(468, 3964, '20251119', 11.7, weight='bold')
box(720, 3927, 913, 3978)
fig.add_artist(Line2D([727], [3942], transform=PIX, ls='none', marker='o', ms=4.5,
                      mfc='#3c3c3c', mec='#1e1e1e', zorder=23))
ftext(738, 3942, 'Dirn', 8, ha='left')
fline(821, 830, 3942, 1.8, color='#6e6e6e'); ftext(834, 3942, '5 min mean sp', 8, ha='left')
fline(721, 730, 3967, 0.8); ftext(737, 3967, 'gust', 8, ha='left')
ftext(62, 4194, 'Degrees', 11.5, rotation=90)
ftext(963, 4194, 'knots', 11.5, rotation=90)
ftext(515, 4485, 'Time, hours GMT', 11)

fig.savefig('out.png', dpi=100, facecolor='white')
